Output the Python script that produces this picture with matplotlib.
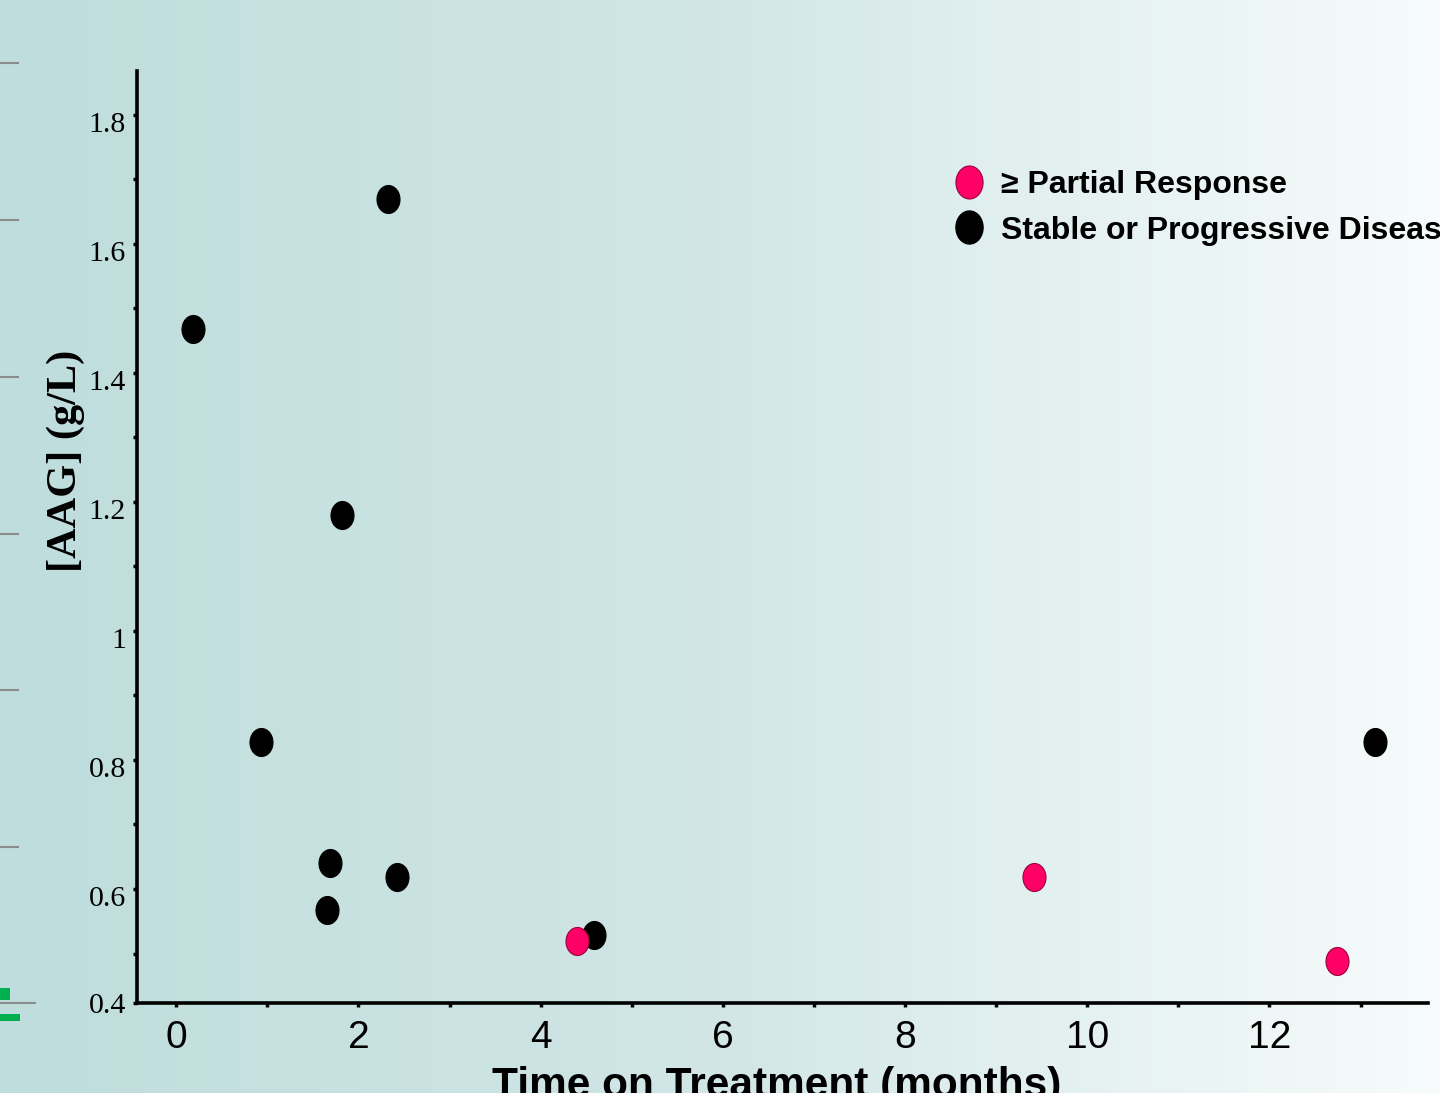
import numpy as np
import matplotlib
matplotlib.use('Agg')
import matplotlib.pyplot as plt
from matplotlib.path import Path
from matplotlib.transforms import Affine2D, ScaledTranslation
from matplotlib.lines import Line2D
from matplotlib.patches import Rectangle

# data
pr_months = [4.40, 9.41, 12.74]
pr_aag = [0.519, 0.619, 0.488]
sd_months = [0.18, 0.93, 1.66, 1.69, 1.82, 2.32, 2.42, 4.59, 13.16]
sd_aag = [1.468, 0.828, 0.567, 0.640, 1.180, 1.670, 0.619, 0.529, 0.828]

ytick_vals = [0.4233, 0.6, 0.8, 1.0, 1.2, 1.4, 1.6, 1.8]
ytick_labels = ['0.4', '0.6', '0.8', '1', '1.2', '1.4', '1.6', '1.8']
yminor_vals = [0.5, 0.7, 0.9, 1.1, 1.3, 1.5, 1.7]
xtick_vals = [0, 2, 4, 6, 8, 10, 12]
xminor_vals = [1, 3, 5, 7, 9, 11, 13]

W, H = 1440, 1093
fig = plt.figure(figsize=(W / 100, H / 100), dpi=100)

# background gradient
bg = fig.add_axes([0, 0, 1, 1], zorder=-10)
stops = np.array([0.0, 0.5, 0.7, 1.0])
cols = np.array([[190, 221, 220], [210, 230, 230], [225, 239, 239], [247, 251, 251]]) / 255.0
xs = np.linspace(0, 1, 400)
grad = np.stack([np.interp(xs, stops, cols[:, c]) for c in range(3)], axis=-1)[None, :, :]
bg.imshow(grad, aspect='auto', extent=[0, 1, 0, 1])
bg.set_axis_off()

# leftover marks at the left edge
def px(x, y):
    return x / W, 1 - y / H
for yy in [63, 220, 377, 534, 690, 847]:
    fig.add_artist(Line2D([0, 18 / W], [1 - yy / H] * 2, color='#8c8c8c', lw=1.5))
fig.add_artist(Line2D([0, 35 / W], [1 - 1003 / H] * 2, color='#8c8c8c', lw=1.5))
fig.add_artist(Rectangle(px(0, 1000), 10 / W, 12 / H, color='#00b050', lw=0))
fig.add_artist(Rectangle(px(0, 1021), 20 / W, 7 / H, color='#00b050', lw=0))

ax = fig.add_axes([137 / W, 1 - 1003 / H, (1428 - 137) / W, (1003 - 71) / H])
ax.set_facecolor('none')

ell = Path.unit_circle().transformed(Affine2D().scale(23 / 28, 1.0))
ms = 28 * 72 / 100

ax.plot(sd_months, sd_aag, linestyle='none', marker=ell, markersize=ms,
        markerfacecolor='black', markeredgecolor='black', markeredgewidth=0.8, zorder=3)
ax.plot(pr_months, pr_aag, linestyle='none', marker=ell, markersize=ms,
        markerfacecolor='#ff0066', markeredgecolor='#9a0040', markeredgewidth=0.8, zorder=3)

ax.set_xlim(-0.43, 13.74)
ax.set_ylim(0.4233, 1.868)

for s in ['top', 'right']:
    ax.spines[s].set_visible(False)
for s in ['left', 'bottom']:
    ax.spines[s].set_linewidth(2.6)

ax.set_xticks(xtick_vals)
ax.set_xticks(xminor_vals, minor=True)
ax.set_yticks(ytick_vals)
ax.set_yticklabels(ytick_labels)
ax.set_yticks(yminor_vals, minor=True)
ax.tick_params(which='both', direction='out', length=3, width=2.5, color='black')
ax.tick_params(axis='x', pad=9, labelsize=28)
ax.tick_params(axis='y', pad=5, labelsize=21.5)

for lbl in ax.get_xticklabels():
    lbl.set_family(['Liberation Sans Narrow', 'Liberation Sans'])
off = ScaledTranslation(0, -7 / 100, fig.dpi_scale_trans)
for i, lbl in enumerate(ax.get_yticklabels()):
    lbl.set_family(['Liberation Serif', 'DejaVu Serif'])
    if i > 0:
        lbl.set_transform(lbl.get_transform() + off)

ax.set_ylabel('[AAG] (g/L)', family=['Liberation Serif', 'DejaVu Serif'],
              fontweight='bold', fontsize=30.5)
ax.yaxis.set_label_coords((85 - 137) / (1428 - 137), (1003 - 461) / (1003 - 71))

ax.set_xlabel('Time on Treatment (months)', family=['Liberation Sans', 'DejaVu Sans'],
              fontweight='bold', fontsize=30.5)
ax.xaxis.set_label_coords((777 - 137) / (1428 - 137), (1003 - 1066) / (1003 - 71))
ax.xaxis.label.set_va('top')

handles = [
    Line2D([], [], linestyle='none', marker=ell, markersize=33 * 72 / 100,
           markerfacecolor='#ff0066', markeredgecolor='#9a0040', markeredgewidth=0.8,
           label='\u2265 Partial Response'),
    Line2D([], [], linestyle='none', marker=ell, markersize=33 * 72 / 100,
           markerfacecolor='black', markeredgecolor='black',
           label='Stable or Progressive Disease'),
]
leg = ax.legend(handles=handles, loc='upper left', frameon=False,
                bbox_to_anchor=((937 - 137) / (1428 - 137), (1003 - 154) / (1003 - 71)),
                handlelength=1.0, handletextpad=0.5, labelspacing=0.49, borderpad=0,
                prop={'family': ['Liberation Sans', 'DejaVu Sans'], 'weight': 'bold', 'size': 23})

fig.savefig('out.png', dpi=100)
